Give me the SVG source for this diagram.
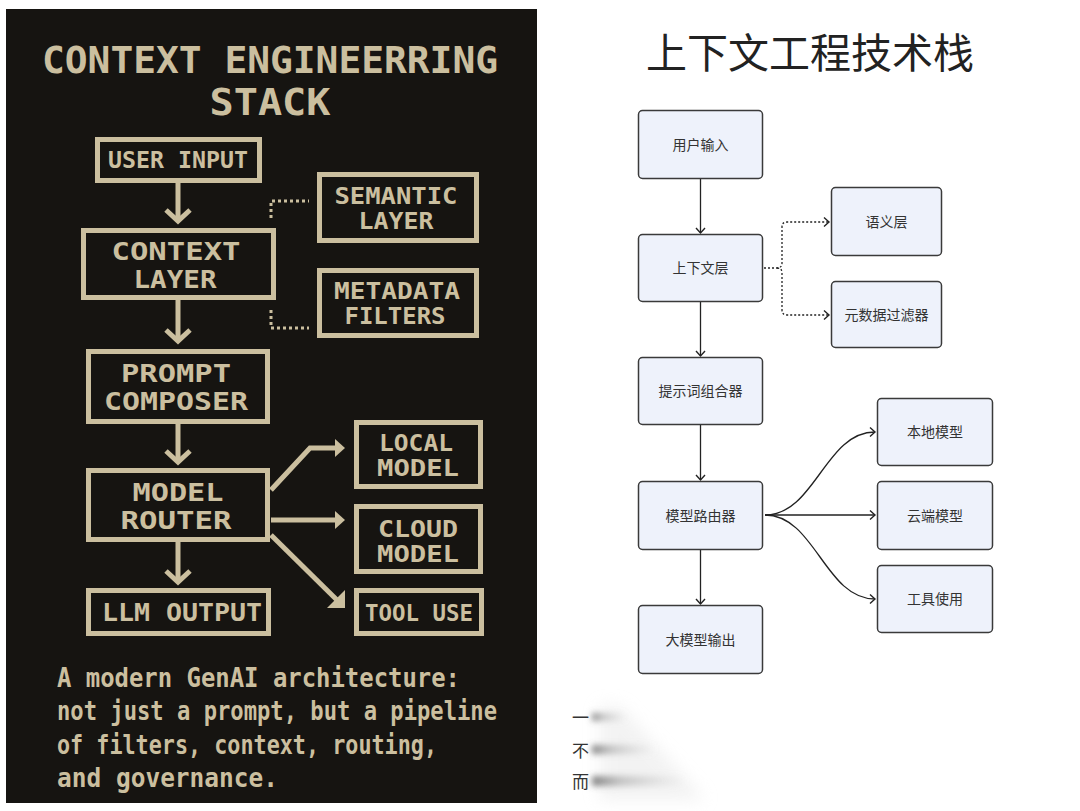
<svg xmlns="http://www.w3.org/2000/svg" width="1080" height="811" viewBox="0 0 1080 811">
<defs>
<style>
.px{font-family:"DejaVu Sans Mono","Liberation Mono",monospace;font-weight:bold;fill:#cbbf9f;text-anchor:middle}
.cap{font-family:"DejaVu Sans Mono","Liberation Mono",monospace;font-weight:bold;fill:#cbbf9f;font-size:27px}
.pbox{fill:none;stroke:#cbbf9f;stroke-width:5}
.pline{fill:none;stroke:#cbbf9f;stroke-width:5}
.pdot{fill:none;stroke:#cbbf9f;stroke-width:3;stroke-dasharray:3 3}
.nbox{fill:#eef2fb;stroke:#3a3a3a;stroke-width:1.5}
.nt{font-family:"Noto Sans CJK SC","Noto Sans",sans-serif;font-size:14px;fill:#333;text-anchor:middle}
.conn{fill:none;stroke:#222;stroke-width:1.3}
.dot{fill:none;stroke:#222;stroke-width:1.3;stroke-dasharray:2 2}
.ft{font-family:"Noto Sans CJK SC",sans-serif;font-size:17px;fill:#333}
</style>
<marker id="ah" markerUnits="userSpaceOnUse" markerWidth="12" markerHeight="12" viewBox="0 0 12 12" refX="10" refY="6" orient="auto">
<path d="M5,1.5 L10,6 L5,10.5" fill="none" stroke="#222" stroke-width="1.4"/>
</marker>
<filter id="blur" x="-50%" y="-100%" width="200%" height="300%"><feGaussianBlur stdDeviation="3"/></filter>
<filter id="blur2" x="-50%" y="-50%" width="200%" height="200%"><feGaussianBlur stdDeviation="8"/></filter>
<linearGradient id="fade" x1="0" y1="0" x2="1" y2="0">
<stop offset="0" stop-color="#555" stop-opacity="0.75"/>
<stop offset="0.3" stop-color="#888" stop-opacity="0.45"/>
<stop offset="1" stop-color="#bbb" stop-opacity="0"/>
</linearGradient>
</defs>
<rect x="0" y="0" width="1080" height="811" fill="#ffffff"/>
<rect x="6" y="9" width="531" height="794" fill="#161411"/>
<g id="left-title">
<text class="px" x="270" y="73" font-size="38" textLength="456" lengthAdjust="spacingAndGlyphs">CONTEXT ENGINEERRING</text>
<text class="px" x="270" y="115" font-size="38" textLength="121" lengthAdjust="spacingAndGlyphs">STACK</text>
</g>
<g id="left-connectors">
<path class="pline" d="M178,183 V221"/>
<path class="pline" d="M166,210 L178,221 L190,210"/>
<path class="pline" d="M178,300 V341"/>
<path class="pline" d="M166,330 L178,341 L190,330"/>
<path class="pline" d="M178,423 V462"/>
<path class="pline" d="M166,451 L178,462 L190,451"/>
<path class="pline" d="M178,542 V582"/>
<path class="pline" d="M166,571 L178,582 L190,571"/>
<path class="pdot" d="M271,218 V201 H309"/>
<path class="pdot" d="M271,310 V328 H309"/>
<path class="pline" d="M271,490 L310,448 H337"/>
<polygon points="335,439 345,448 335,457" fill="#cbbf9f"/>
<path class="pline" d="M271,520 H337"/>
<polygon points="335,511 345,520 335,529" fill="#cbbf9f"/>
<path class="pline" d="M271,535 L340,603"/>
<polygon points="345,608 345,590 327,608" fill="#cbbf9f"/>
</g>
<g id="l-user-input"><rect class="pbox" x="97.5" y="139.5" width="162" height="41"/><text class="px" x="178" y="168" font-size="23" textLength="140" lengthAdjust="spacingAndGlyphs">USER INPUT</text></g>
<g id="l-semantic"><rect class="pbox" x="319.5" y="174.5" width="157" height="66"/><text class="px" x="396" y="204" font-size="23" textLength="123" lengthAdjust="spacingAndGlyphs">SEMANTIC</text><text class="px" x="396" y="229" font-size="23" textLength="75" lengthAdjust="spacingAndGlyphs">LAYER</text></g>
<g id="l-context"><rect class="pbox" x="83.5" y="230.5" width="190" height="67"/><text class="px" x="176" y="260" font-size="24" textLength="129" lengthAdjust="spacingAndGlyphs">CONTEXT</text><text class="px" x="175" y="288" font-size="24" textLength="83" lengthAdjust="spacingAndGlyphs">LAYER</text></g>
<g id="l-metadata"><rect class="pbox" x="319.5" y="270.5" width="157" height="65"/><text class="px" x="397" y="299" font-size="23" textLength="126" lengthAdjust="spacingAndGlyphs">METADATA</text><text class="px" x="395" y="324" font-size="23" textLength="101" lengthAdjust="spacingAndGlyphs">FILTERS</text></g>
<g id="l-prompt"><rect class="pbox" x="88.5" y="351.5" width="179" height="70"/><text class="px" x="176" y="382" font-size="24" textLength="110" lengthAdjust="spacingAndGlyphs">PROMPT</text><text class="px" x="176" y="410" font-size="24" textLength="144" lengthAdjust="spacingAndGlyphs">COMPOSER</text></g>
<g id="l-local"><rect class="pbox" x="356.5" y="422.5" width="124" height="64"/><text class="px" x="416" y="451" font-size="23" textLength="74" lengthAdjust="spacingAndGlyphs">LOCAL</text><text class="px" x="418" y="476" font-size="23" textLength="82" lengthAdjust="spacingAndGlyphs">MODEL</text></g>
<g id="l-router"><rect class="pbox" x="88.5" y="470.5" width="179" height="69"/><text class="px" x="178" y="501" font-size="24" textLength="91" lengthAdjust="spacingAndGlyphs">MODEL</text><text class="px" x="176" y="529" font-size="24" textLength="111" lengthAdjust="spacingAndGlyphs">ROUTER</text></g>
<g id="l-cloud"><rect class="pbox" x="356.5" y="506.5" width="124" height="65"/><text class="px" x="418" y="537" font-size="23" textLength="80" lengthAdjust="spacingAndGlyphs">CLOUD</text><text class="px" x="418" y="562" font-size="23" textLength="82" lengthAdjust="spacingAndGlyphs">MODEL</text></g>
<g id="l-llm-output"><rect class="pbox" x="88.5" y="590.5" width="180" height="43"/><text class="px" x="182" y="621" font-size="24" textLength="160" lengthAdjust="spacingAndGlyphs">LLM OUTPUT</text></g>
<g id="l-tool-use"><rect class="pbox" x="356.5" y="590.5" width="125" height="43"/><text class="px" x="419" y="621" font-size="23" textLength="108" lengthAdjust="spacingAndGlyphs">TOOL USE</text></g>
<g id="left-caption">
<text class="cap" x="57" y="687" textLength="403" lengthAdjust="spacingAndGlyphs">A modern GenAI architecture:</text>
<text class="cap" x="57" y="720" textLength="440" lengthAdjust="spacingAndGlyphs">not just a prompt, but a pipeline</text>
<text class="cap" x="57" y="754" textLength="380" lengthAdjust="spacingAndGlyphs">of filters, context, routing,</text>
<text class="cap" x="57" y="787" textLength="221" lengthAdjust="spacingAndGlyphs">and governance.</text>
</g>
<text x="810" y="68" font-family="'Noto Sans CJK SC','Noto Sans',sans-serif" font-size="41" fill="#222" text-anchor="middle">上下文工程技术栈</text>
<g id="connectors">
<path class="conn" d="M700.5,179 V233" marker-end="url(#ah)"/>
<path class="conn" d="M700.5,302 V356" marker-end="url(#ah)"/>
<path class="conn" d="M700.5,425 V480" marker-end="url(#ah)"/>
<path class="conn" d="M700.5,550 V604" marker-end="url(#ah)"/>
<path class="dot" d="M764,268 H777 Q782,268 782,263 V227 Q782,222 787,222 H829" marker-end="url(#ah)"/>
<path class="dot" d="M777,268 Q782,268 782,273 V310 Q782,315 787,315 H829" marker-end="url(#ah)"/>
<path class="conn" d="M765,515 C815,515 825,432 875,432" marker-end="url(#ah)"/>
<path class="conn" d="M765,515 H875" marker-end="url(#ah)"/>
<path class="conn" d="M765,515 C815,515 825,599 875,599" marker-end="url(#ah)"/>
</g>
<g id="n-user-input"><rect class="nbox" x="638.5" y="110.5" width="124" height="68" rx="4"/><text class="nt" x="700.5" y="149.5">用户输入</text></g>
<g id="n-context"><rect class="nbox" x="638.5" y="234.5" width="124" height="67" rx="4"/><text class="nt" x="700.5" y="273">上下文层</text></g>
<g id="n-semantic"><rect class="nbox" x="831.5" y="187.5" width="110" height="68" rx="4"/><text class="nt" x="886.5" y="226.5">语义层</text></g>
<g id="n-metadata"><rect class="nbox" x="831.5" y="281.5" width="110" height="66" rx="4"/><text class="nt" x="886.5" y="319.5">元数据过滤器</text></g>
<g id="n-prompt"><rect class="nbox" x="638.5" y="357.5" width="124" height="67" rx="4"/><text class="nt" x="700.5" y="396">提示词组合器</text></g>
<g id="n-local"><rect class="nbox" x="877.5" y="398.5" width="115" height="67" rx="4"/><text class="nt" x="935" y="437">本地模型</text></g>
<g id="n-router"><rect class="nbox" x="638.5" y="481.5" width="124" height="68" rx="4"/><text class="nt" x="700.5" y="520.5">模型路由器</text></g>
<g id="n-cloud"><rect class="nbox" x="877.5" y="481.5" width="115" height="68" rx="4"/><text class="nt" x="935" y="520.5">云端模型</text></g>
<g id="n-tool"><rect class="nbox" x="877.5" y="565.5" width="115" height="67" rx="4"/><text class="nt" x="935" y="604">工具使用</text></g>
<g id="n-llm-output"><rect class="nbox" x="638.5" y="605.5" width="124" height="68" rx="4"/><text class="nt" x="700.5" y="644.5">大模型输出</text></g>
<g id="faded-text">
<polygon points="600,706 620,706 705,800 600,800" fill="#e6e6e6" opacity="0.5" filter="url(#blur2)"/>
<rect x="592" y="713" width="36" height="8" fill="url(#fade)" filter="url(#blur)"/>
<rect x="592" y="745" width="64" height="9" fill="url(#fade)" filter="url(#blur)"/>
<rect x="592" y="776" width="95" height="10" fill="url(#fade)" filter="url(#blur)"/>
<text class="ft" x="572" y="724">一</text>
<text class="ft" x="572" y="757">不</text>
<text class="ft" x="572" y="788">而</text>
</g>
</svg>
